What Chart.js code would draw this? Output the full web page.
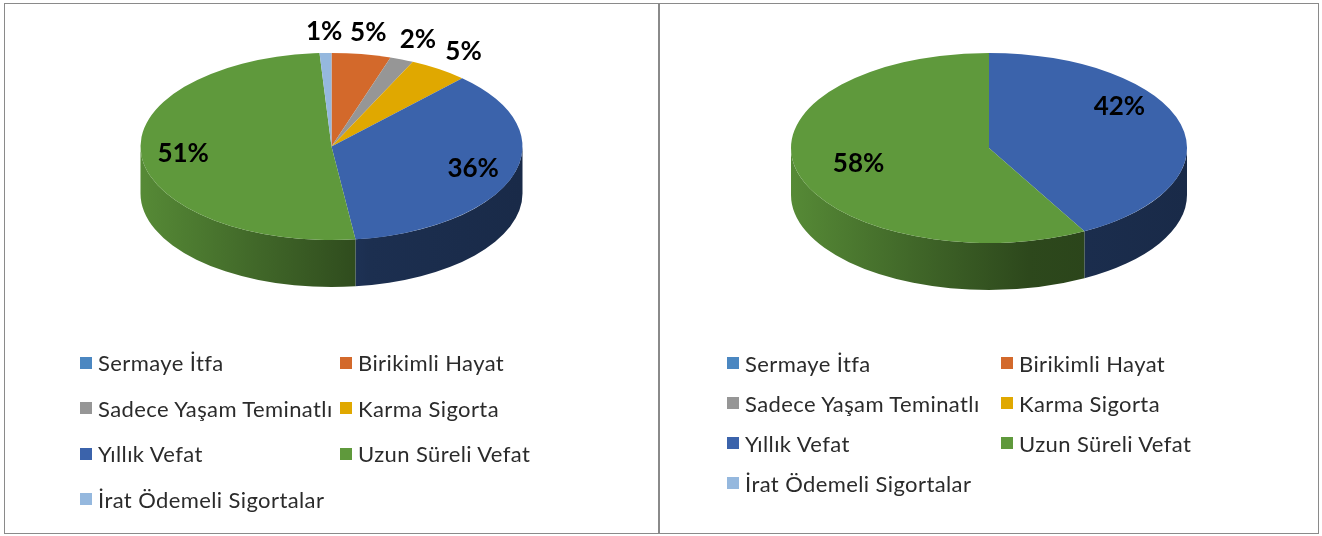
<!DOCTYPE html>
<html>
<head>
<meta charset="utf-8">
<script src="https://cdn.jsdelivr.net/npm/chart.js@4.4.1/dist/chart.umd.min.js"></script>
<style>
  body { margin: 0; background: #fff; width: 1322px; height: 536px; position: relative; overflow: hidden; font-family: Lato, "Open Sans", sans-serif; }
  .panel { position: absolute; top: 3px; height: 531px; box-sizing: border-box; border: 1px solid #8a8a8a; background: #fff; }
  .panel canvas { position: absolute; left: 0; top: 0; }
  .legend { position: absolute; display: grid; }
  .legend .item { display: flex; align-items: center; font-size: 22px; letter-spacing: 0.4px; color: #2b2b2b; white-space: nowrap; }
  .legend .sw { width: 12px; height: 12px; margin-right: 6px; flex: none; }
</style>
</head>
<body>
<div class="panel" id="p1" style="left:4px; width:655px;">
  <canvas id="pieLeft"></canvas>
  <div class="legend" id="legLeft"></div>
</div>
<div class="panel" id="p2" style="left:659px; width:660px;">
  <canvas id="pieRight"></canvas>
  <div class="legend" id="legRight"></div>
</div>
<script>
const categories = ['Sermaye İtfa', 'Birikimli Hayat', 'Sadece Yaşam Teminatlı', 'Karma Sigorta', 'Yıllık Vefat', 'Uzun Süreli Vefat', 'İrat Ödemeli Sigortalar'];
const leftValues = [0, 5, 2, 5, 36, 51, 1];
const rightValues = [0, 0, 0, 0, 42, 58, 0];
const sliceColors = ['#4B87C1', '#D3692B', '#969696', '#E0A800', '#3B63AB', '#5F993C', '#95B8DE'];

function shade(hex, f) {
    const n = parseInt(hex.slice(1), 16);
    const r = Math.round(((n >> 16) & 255) * f);
    const g = Math.round(((n >> 8) & 255) * f);
    const b = Math.round((n & 255) * f);
    return `rgb(${r},${g},${b})`;
}

// squashes the pie into an ellipse and draws the front wall + % labels
const pie3d = {
    id: 'pie3d',
    beforeDatasetsDraw(chart, args, opts) {
        const ctx = chart.ctx;
        const meta = chart.getDatasetMeta(0);
        const colors = chart.data.datasets[0].backgroundColor;
        meta.data.forEach((arc, i) => {
            const a = Math.max(arc.startAngle, 0);
            const b = Math.min(arc.endAngle, Math.PI);
            if (b <= a) return;
            const r = arc.outerRadius, ry = r * opts.squash;
            const g = ctx.createLinearGradient(arc.x - r, 0, arc.x + r, 0);
            g.addColorStop(0, shade(colors[i], 0.9));
            g.addColorStop(0.3, shade(colors[i], 0.68));
            g.addColorStop(0.6, shade(colors[i], 0.47));
            g.addColorStop(1, shade(colors[i], 0.42));
            ctx.beginPath();
            ctx.ellipse(arc.x, arc.y, r, ry, 0, a, b);
            ctx.ellipse(arc.x, arc.y + opts.depth, r, ry, 0, b, a, true);
            ctx.closePath();
            ctx.fillStyle = g;
            ctx.fill();
        });
        const c = meta.data[0];
        ctx.save();
        ctx.translate(c.x, c.y);
        ctx.scale(1, opts.squash);
        ctx.translate(-c.x, -c.y);
    },
    afterDatasetsDraw(chart, args, opts) {
        const ctx = chart.ctx;
        ctx.restore();
        const data = chart.data.datasets[0].data;
        const total = data.reduce((s, v) => s + v, 0);
        ctx.save();
        ctx.font = 'bold 26px Lato, "Open Sans", sans-serif';
        ctx.fillStyle = '#000';
        ctx.textAlign = 'center';
        ctx.textBaseline = 'middle';
        chart.getDatasetMeta(0).data.forEach((arc, i) => {
            if (!data[i]) return;
            const pct = Math.round(data[i] / total * 100);
            const mid = (arc.startAngle + arc.endAngle) / 2;
            const inner = pct >= 10;
            const f = inner ? opts.innerLabel : opts.outerLabel;
            // far half of the disc sits higher (perspective)
            const lift = inner && Math.sin(mid) < 0 ? opts.labelLift : 1;
            const x = arc.x + Math.cos(mid) * arc.outerRadius * f;
            const y = arc.y + Math.sin(mid) * arc.outerRadius * opts.squash * f * lift;
            ctx.fillText(pct + '%', x, y);
        });
        ctx.restore();
    }
};

function makePie(id, values, w, h, cy, radius, squash, labelR, labelLift) {
    const canvas = document.getElementById(id);
    canvas.width = w;
    canvas.height = h;
    return new Chart(canvas, {
        type: 'pie',
        data: {
            labels: categories,
            datasets: [{
                data: values,
                backgroundColor: sliceColors,
                borderWidth: 0,
                clip: false
            }]
        },
        options: {
            responsive: false,
            animation: false,
            radius: radius,
            layout: { padding: { top: 0, left: 0, right: 0, bottom: h - 2 * cy } },
            plugins: {
                legend: { display: false },
                tooltip: { enabled: false },
                pie3d: { squash: squash, depth: 47, outerLabel: 1.23, innerLabel: labelR, labelLift: labelLift }
            }
        },
        plugins: [pie3d]
    });
}

function makeLegend(id, left, top, colW, rowH) {
    const el = document.getElementById(id);
    el.style.left = left + 'px';
    el.style.top = top + 'px';
    el.style.gridTemplateColumns = colW + 'px auto';
    el.style.gridAutoRows = rowH + 'px';
    categories.forEach((name, i) => {
        const item = document.createElement('div');
        item.className = 'item';
        item.innerHTML = `<span class="sw" style="background:${sliceColors[i]}"></span><span>${name}</span>`;
        el.appendChild(item);
    });
}

makePie('pieLeft', leftValues, 653, 529, 142.5, 191, 0.49, 0.78, 1);
makePie('pieRight', rightValues, 658, 529, 144, 198, 0.48, 0.68, 2.55);
makeLegend('legLeft', 75, 336, 260, 45.5);
makeLegend('legRight', 67, 339, 274, 40);
</script>
</body>
</html>
